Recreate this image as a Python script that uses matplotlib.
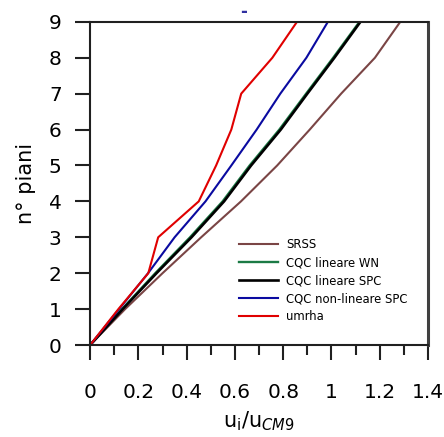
import numpy as np
import matplotlib
matplotlib.use("Agg")
import matplotlib.pyplot as plt
from matplotlib.ticker import MultipleLocator

plt.rcParams['font.family'] = ['DejaVu Sans']
plt.rcParams['mathtext.fontset'] = 'dejavusans'

# storey number
floors = [0, 1, 2, 3, 4, 5, 6, 7, 8, 9]

# normalised displacements u_i / u_CM9
srss = [0, 0.145, 0.30, 0.46, 0.625, 0.775, 0.91, 1.04, 1.18, 1.285]
cqc_wn = [0, 0.132, 0.270, 0.414, 0.549, 0.661, 0.784, 0.895, 1.007, 1.116]
cqc_spc = [0, 0.135, 0.275, 0.42, 0.555, 0.667, 0.79, 0.90, 1.012, 1.12]
cqc_nl = [0, 0.12, 0.24, 0.35, 0.478, 0.585, 0.69, 0.788, 0.896, 0.985]
umrha = [0, 0.117, 0.241, 0.282, 0.45, 0.522, 0.585, 0.626, 0.755, 0.857]

labels = ['SRSS', 'CQC lineare WN', 'CQC lineare SPC',
          'CQC non-lineare SPC', 'umrha']
colors = ['#7a4545', '#1b7a45', '#000000', '#0a0aa0', '#e00000']

fig = plt.figure(figsize=(4.44, 4.37), dpi=100)
ax = fig.add_axes([0.203, 0.2105, 0.761, 0.7395])

ax.plot(srss, floors, color=colors[0], lw=1.5, label=labels[0])
ax.plot(cqc_wn, floors, color=colors[1], lw=1.7, label=labels[1])
ax.plot(cqc_spc, floors, color=colors[2], lw=1.9, label=labels[2])
ax.plot(cqc_nl, floors, color=colors[3], lw=1.5, label=labels[3])
ax.plot(umrha, floors, color=colors[4], lw=1.5, label=labels[4])

ax.set_xlim(0, 1.4)
ax.set_ylim(0, 9)
ax.xaxis.set_minor_locator(MultipleLocator(0.1))
ax.yaxis.set_major_locator(MultipleLocator(1))
ax.set_xticks([0, 0.2, 0.4, 0.6, 0.8, 1.0, 1.2, 1.4])
ax.set_xticklabels(['0', '0.2', '0.4', '0.6', '0.8', '1', '1.2', '1.4'])

ax.tick_params(axis='both', which='major', direction='out', length=10.5,
               width=1.5, labelsize=14.5, color='#202020')
ax.tick_params(axis='x', which='major', pad=17)
ax.tick_params(axis='y', which='major', pad=10)
ax.tick_params(axis='x', which='minor', direction='out', length=7, width=1.5,
               color='#202020')

for s in ['left', 'top', 'bottom']:
    ax.spines[s].set_linewidth(1.5)
    ax.spines[s].set_color('#202020')
ax.spines['right'].set_linewidth(2.2)
ax.spines['right'].set_color('#404040')

ax.set_ylabel('n° piani', fontsize=15)
ax.yaxis.set_label_coords(-0.16, 0.5)
ax.set_xlabel(r'u$_{\mathrm{i}}$/u$_{\mathit{CM9}}$', fontsize=15, labelpad=5)

ax.legend(loc='upper left', bbox_to_anchor=(0.441, 0.33), frameon=False,
          fontsize=8.4, handlelength=3.3, handletextpad=0.7, labelspacing=0.42,
          borderpad=0, borderaxespad=0)

fig.text(0.548, 0.972, '-', color='#3030a0', fontsize=12, fontweight='bold',
         ha='center', va='center')

fig.savefig('out.png', dpi=100)
